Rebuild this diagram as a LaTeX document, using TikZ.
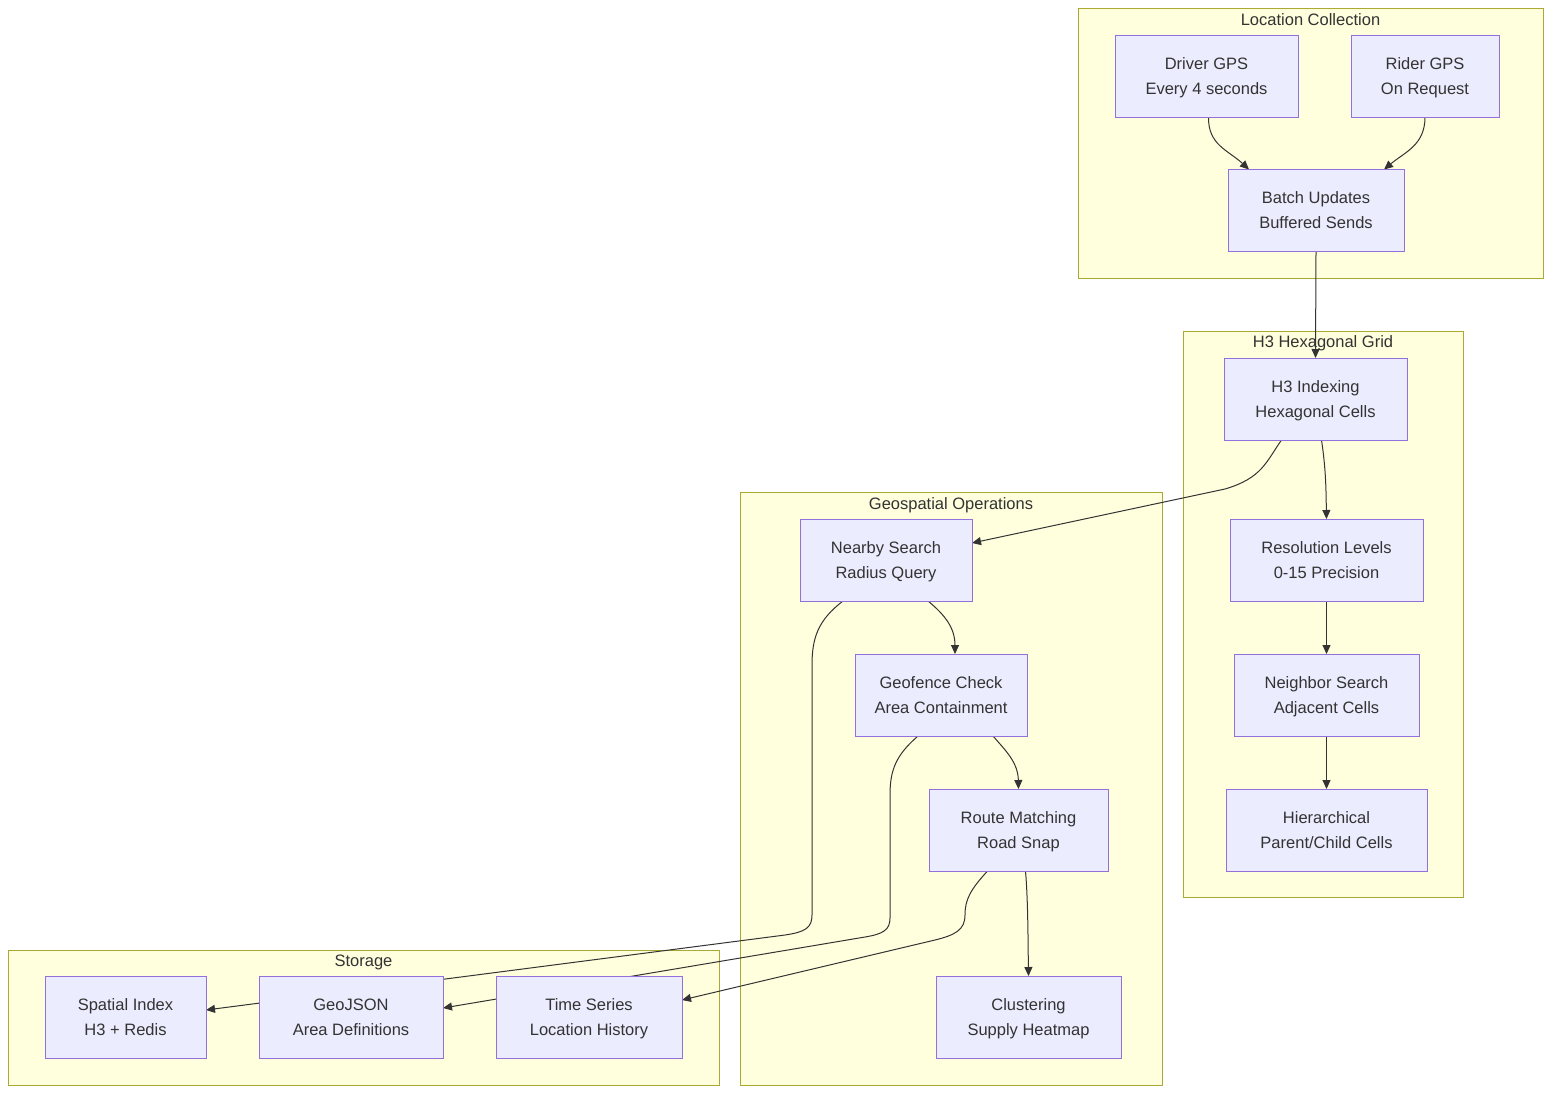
\documentclass[tikz,border=0pt]{standalone}
\usepackage{fontspec}
\setmainfont{Liberation Sans}
\usetikzlibrary{arrows.meta}
\definecolor{clfill}{HTML}{FFFFDE}
\definecolor{cldraw}{HTML}{AAAA33}
\definecolor{ndfill}{HTML}{ECECFF}
\definecolor{nddraw}{HTML}{9370DB}
\definecolor{txt}{HTML}{333333}
\pgfdeclarelayer{bg}
\pgfdeclarelayer{edges}
\pgfsetlayers{bg,edges,main}
\newcommand\twol[2]{\rule{0pt}{16pt}#1\\#2\rule[-5pt]{0pt}{5pt}}
\begin{document}
\begin{tikzpicture}[x=1pt,y=-1pt,
  cluster/.style={draw=cldraw,fill=clfill,line width=1pt,inner sep=0pt,outer sep=0pt},
  ctitle/.style={text=txt,font=\fontsize{16.5}{20}\selectfont,inner sep=0pt},
  box/.style={draw=nddraw,fill=ndfill,line width=1pt,text=txt,align=center,
    font=\fontsize{16.5}{25}\selectfont,inner sep=0pt,outer sep=0pt,minimum height=82pt},
  edge/.style={draw=txt,line width=1pt,-{Triangle[length=9pt,width=8pt]}}]
\useasboundingbox (0,0) rectangle (1568,1106);
% clusters
\begin{pgfonlayer}{bg}
\node[cluster,minimum width=465pt,minimum height=270pt] (cLoc) at (1310.5,143) {};
\node[cluster,minimum width=280pt,minimum height=566pt] (cH3) at (1323,614) {};
\node[cluster,minimum width=422pt,minimum height=593pt] (cGeo) at (951,788.5) {};
\node[cluster,minimum width=711pt,minimum height=135pt] (cSto) at (363.5,1017.5) {};
\end{pgfonlayer}
\node[ctitle] (tLoc) at (1310.5,20) {Location Collection};
\node[ctitle] (tH3) at (1323,343) {H3 Hexagonal Grid};
\node[ctitle] (tGeo) at (951,505) {Geospatial Operations};
\node[ctitle] (tSto) at (363.5,962) {Storage};
% nodes
\node[box,minimum width=183pt] (driver) at (1206.5,76) {\twol{Driver GPS}{Every 4 seconds}};
\node[box,minimum width=148pt] (rider) at (1425,76) {\twol{Rider GPS}{On Request}};
\node[box,minimum width=176pt] (batch) at (1316,210.5) {\twol{Batch Updates}{Buffered Sends}};
\node[box,minimum width=183pt] (h3) at (1315.5,399) {\twol{H3 Indexing}{Hexagonal Cells}};
\node[box,minimum width=193pt] (res) at (1326.5,560) {\twol{Resolution Levels}{0-15 Precision}};
\node[box,minimum width=185pt] (neigh) at (1326.5,695) {\twol{Neighbor Search}{Adjacent Cells}};
\node[box,minimum width=201pt] (hier) at (1326.5,830) {\twol{Hierarchical}{Parent/Child Cells}};
\node[box,minimum width=172pt] (nearby) at (886,560) {\twol{Nearby Search}{Radius Query}};
\node[box,minimum width=172pt] (geof) at (941,695) {\twol{Geofence Check}{Area Containment}};
\node[box,minimum width=179pt] (route) at (1018.5,830) {\twol{Route Matching}{Road Snap}};
\node[box,minimum width=185pt] (clus) at (1028.5,1017) {\twol{Clustering}{Supply Heatmap}};
\node[box,minimum width=161pt] (spat) at (125.5,1017) {\twol{Spatial Index}{H3 + Redis}};
\node[box,minimum width=184pt] (geoj) at (351,1017) {\twol{GeoJSON}{Area Definitions}};
\node[box,minimum width=186pt] (tser) at (589,1017) {\twol{Time Series}{Location History}};
% edges
\begin{pgfonlayer}{edges}
\draw[edge] ([xshift=2pt]driver.south) .. controls (1208,145) and (1228,150) .. ([xshift=-67pt]batch.north);
\draw[edge] (rider.south) .. controls (1425,145) and (1405,152) .. ([xshift=68pt]batch.north);
\draw[edge] (batch.south) -- (h3.north);
\draw[edge] ([xshift=-34pt]h3.south) .. controls (1266,462) and (1262,478) .. (1225,489) -- ([yshift=17pt]nearby.east);
\draw[edge] ([xshift=6pt]h3.south) .. controls (1326,470) and (1326,490) .. (res.north);
\draw[edge] (res.south) -- (neigh.north);
\draw[edge] (neigh.south) -- (hier.north);
\draw[edge] ([xshift=42pt]nearby.south) .. controls (945,615) and (955,628) .. ([xshift=14pt]geof.north);
\draw[edge] ([xshift=52pt]geof.south) .. controls (1005,750) and (1018,762) .. (route.north);
\draw[edge] ([xshift=7pt]route.south) .. controls (1028,900) and (1028,940) .. (clus.north);
\draw[edge] ([xshift=-43pt]nearby.south) .. controls (818,620) and (812,638) .. (812,665) -- (812,915) .. controls (812,928) and (805,932) .. (785,935) -- ([yshift=7pt]spat.east);
\draw[edge] ([xshift=-23pt]geof.south) .. controls (896,755) and (890,770) .. (890,795) -- (890,918) .. controls (890,930) and (883,934) .. (865,937) -- ([yshift=9pt]geoj.east);
\draw[edge] ([xshift=-31pt]route.south) .. controls (970,890) and (965,900) .. (965,915) .. controls (965,930) and (955,935) .. (935,940) -- ([yshift=17pt]tser.east);
\end{pgfonlayer}
\end{tikzpicture}
\end{document}
